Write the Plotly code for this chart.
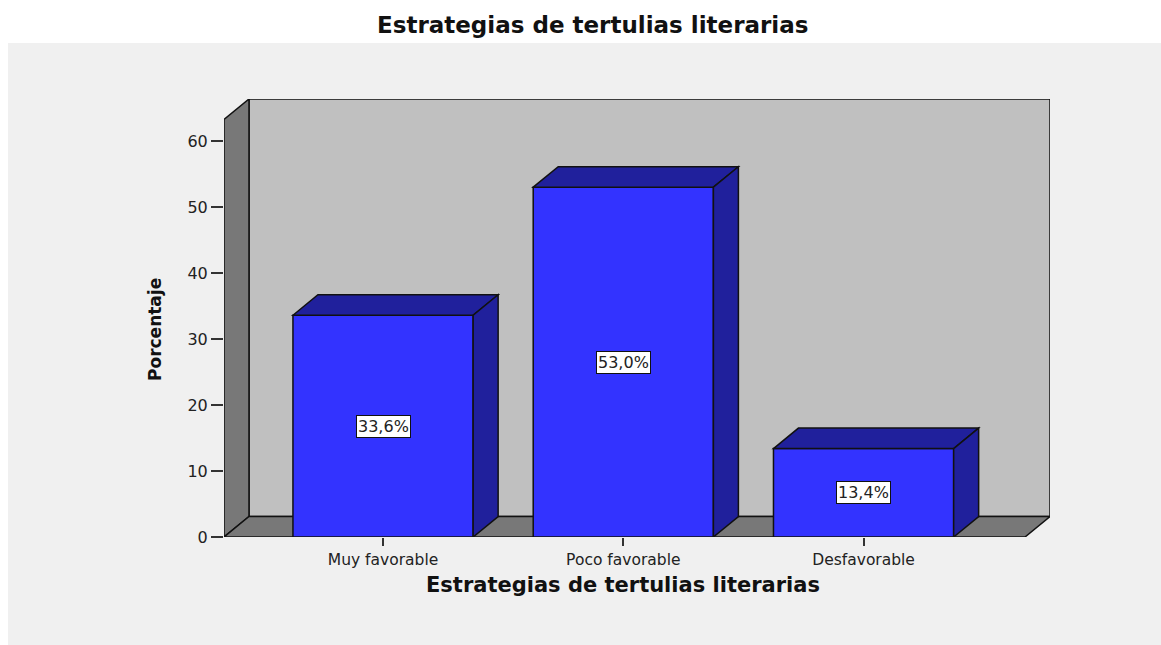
import plotly.graph_objects as go

# ---- data ----
categories = ["Muy favorable", "Poco favorable", "Desfavorable"]
percentages = [33.6, 53.0, 13.4]
value_labels = ["33,6%", "53,0%", "13,4%"]
y_ticks = [0, 10, 20, 30, 40, 50, 60]

title_text = "Estrategias de tertulias literarias"
x_title = "Estrategias de tertulias literarias"
y_title = "Porcentaje"

# ---- style / geometry constants ----
W, H = 1161, 645
ML, MR, MT, MB = 224, 111, 99, 108
BAR_W = 0.75
DX, DY = 0.104, 3.1          # 3D depth offset in data units
X0, X1 = -0.662, 2.672       # front floor extent
YT = 63.26                   # front top of left wall
FRONT = "#3333ff"
DARK = "#20209c"
WALL = "#787878"
BACK = "#c0c0c0"
EDGE = dict(color="#111111", width=1.5)

xs = list(range(len(categories)))

fig = go.Figure()
fig.add_trace(go.Bar(
    x=xs, y=percentages, width=BAR_W,
    marker=dict(color=FRONT, line=dict(color="#111111", width=1.5)),
    hoverinfo="skip", showlegend=False,
))

shapes = []
# outer panel background (paper coords)
pw = W - ML - MR
ph = H - MT - MB
shapes.append(dict(type="rect", xref="paper", yref="paper",
                   x0=(8 - ML) / pw, x1=1.3, y0=-0.4, y1=(H - MB - 43) / ph,
                   fillcolor="#f0f0f0", line=dict(width=0), layer="below"))
# back wall
shapes.append(dict(type="rect", xref="x", yref="y",
                   x0=X0 + DX, x1=X1 + DX, y0=DY, y1=YT + DY,
                   fillcolor=BACK, line=EDGE, layer="below"))
# left wall
shapes.append(dict(type="path", xref="x", yref="y",
                   path=f"M {X0},0 L {X0+DX},{DY} L {X0+DX},{YT+DY} L {X0},{YT} Z",
                   fillcolor=WALL, line=EDGE, layer="below"))
# floor
shapes.append(dict(type="path", xref="x", yref="y",
                   path=f"M {X0},0 L {X1},0 L {X1+DX},{DY} L {X0+DX},{DY} Z",
                   fillcolor=WALL, line=EDGE, layer="below"))

# bar top and side faces
for x, v in zip(xs, percentages):
    l = x - BAR_W / 2
    r = x + BAR_W / 2
    shapes.append(dict(type="path", xref="x", yref="y",
                       path=f"M {l},{v} L {l+DX},{v+DY} L {r+DX},{v+DY} L {r},{v} Z",
                       fillcolor=DARK, line=EDGE, layer="above"))
    shapes.append(dict(type="path", xref="x", yref="y",
                       path=f"M {r},0 L {r+DX},{DY} L {r+DX},{v+DY} L {r},{v} Z",
                       fillcolor=DARK, line=EDGE, layer="above"))

annotations = []
for x, v, t in zip(xs, percentages, value_labels):
    annotations.append(dict(x=x, y=v / 2, xref="x", yref="y", text=t,
                            showarrow=False, bgcolor="white",
                            bordercolor="#111111", borderwidth=1, borderpad=1,
                            font=dict(family="DejaVu Sans", size=16, color="#222222")))

annotations.append(dict(x=(592 - ML) / pw, y=(H - MB - 25) / ph, xref="paper", yref="paper",
                        text=f"<b>{title_text}</b>", showarrow=False,
                        xanchor="center", yanchor="middle",
                        font=dict(family="DejaVu Sans", size=23, color="#111111")))
annotations.append(dict(x=(623 - ML) / pw, y=(H - MB - 585) / ph, xref="paper", yref="paper",
                        text=f"<b>{x_title}</b>", showarrow=False,
                        xanchor="center", yanchor="middle",
                        font=dict(family="DejaVu Sans", size=21, color="#111111")))
annotations.append(dict(x=(155 - ML) / pw, y=(H - MB - 330) / ph, xref="paper", yref="paper",
                        text=f"<b>{y_title}</b>", showarrow=False, textangle=-90,
                        xanchor="center", yanchor="middle",
                        font=dict(family="DejaVu Sans", size=17, color="#111111")))

fig.update_layout(
    width=W, height=H,
    margin=dict(l=ML, r=MR, t=MT, b=MB, pad=0),
    paper_bgcolor="white", plot_bgcolor="rgba(0,0,0,0)",
    shapes=shapes, annotations=annotations,
    showlegend=False,
    xaxis=dict(range=[X0, X1 + DX], tickmode="array", tickvals=xs, ticktext=categories,
               showgrid=False, zeroline=False, showline=False,
               ticks="outside", ticklen=8, tickwidth=1.5, tickcolor="#333333",
               ticklabelstandoff=0,
               tickfont=dict(family="DejaVu Sans", size=15.5, color="#222222"),
               fixedrange=True),
    yaxis=dict(range=[0, YT + DY], tickmode="array", tickvals=y_ticks,
               showgrid=False, zeroline=False, showline=False,
               ticks="outside", ticklen=12, tickwidth=1.5, tickcolor="#333333",
               tickfont=dict(family="DejaVu Sans", size=16, color="#222222"),
               fixedrange=True),
)

fig.write_html("out.html", config={"displayModeBar": False},
               post_script="document.body.style.margin='0px';document.body.style.overflow='hidden';")
